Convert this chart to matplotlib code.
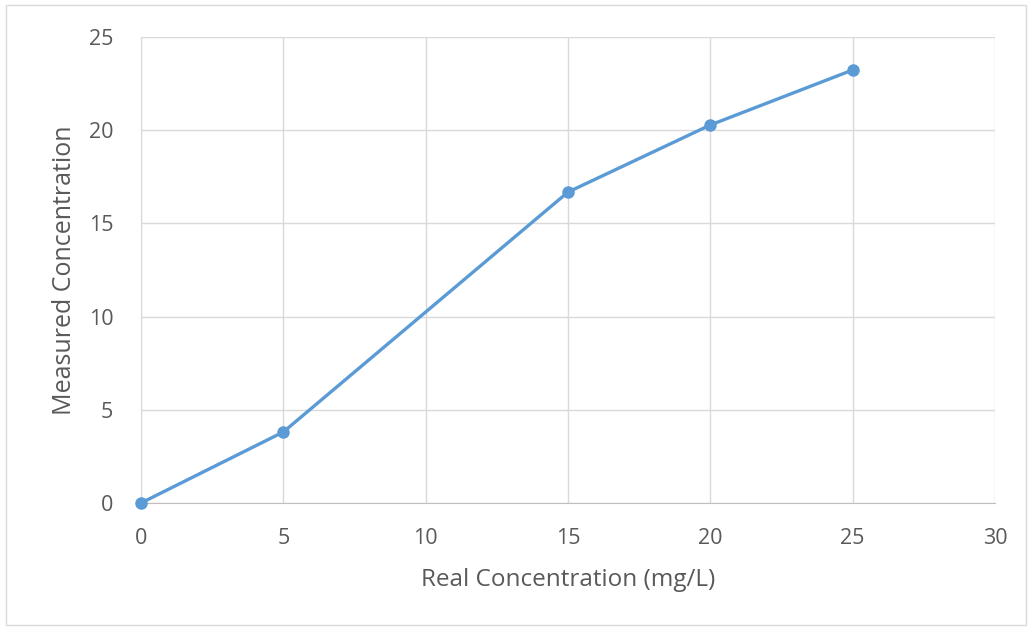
import matplotlib
matplotlib.use("Agg")
import matplotlib.pyplot as plt
from matplotlib.patches import Rectangle

x_vals = [0, 5, 15, 20, 25]
y_vals = [0, 3.81, 16.68, 20.28, 23.23]
x_ticks = [0, 5, 10, 15, 20, 25, 30]
y_ticks = [0, 5, 10, 15, 20, 25]

plt.rcParams['font.family'] = ['Open Sans', 'DejaVu Sans']
text_c = '#595959'
grid_c = '#d9d9d9'

fig = plt.figure(figsize=(10.32, 6.29), dpi=100)
fig.patches.append(Rectangle((0.006, 0.006), 0.988, 0.986, transform=fig.transFigure,
                             fill=False, edgecolor='#d9d9d9', linewidth=1))
ax = fig.add_axes([141/1032, 1-503/629, (995-141)/1032, (503-37)/629])
ax.plot(x_vals, y_vals, color='#5B9BD5', linewidth=2.4, marker='o', markersize=8,
        clip_on=False, zorder=3)
ax.set_xlim(0, 30)
ax.set_ylim(0, 25)
ax.set_xticks(x_ticks)
ax.set_yticks(y_ticks)
ax.grid(True, color=grid_c, linewidth=1)
for s in ax.spines.values():
    s.set_visible(False)
ax.spines['left'].set_visible(True)
ax.spines['left'].set_color(grid_c)
ax.spines['bottom'].set_visible(True)
ax.spines['bottom'].set_color('#bfbfbf')
ax.tick_params(length=0, labelsize=15.5, colors=text_c)
ax.tick_params(axis='x', pad=18)
ax.tick_params(axis='y', pad=20)
ax.set_xlabel('Real Concentration (mg/L)', fontsize=17.5, color=text_c, va='center')
ax.set_ylabel('Measured Concentration', fontsize=18, color=text_c, va='center')
ax.xaxis.set_label_coords(0.5, (503 - 580) / 466)
ax.yaxis.set_label_coords((65 - 141) / 854, 0.5)
fig.savefig('out.png', dpi=100)
